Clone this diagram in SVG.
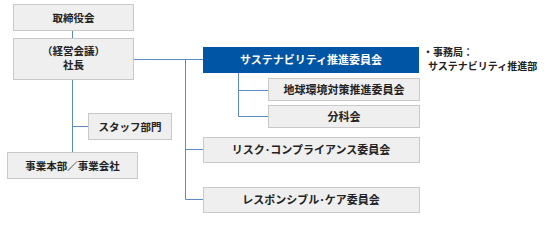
<svg xmlns="http://www.w3.org/2000/svg" width="554" height="236" viewBox="0 0 554 236">
<style>
.box{fill:#efefef;stroke:#c9c9c9;stroke-width:1}
.blue{fill:#0055a5;stroke:#0055a5}
.t{font-family:"Noto Sans CJK JP","Noto Sans",sans-serif;font-size:10.5px;font-weight:bold;fill:#222;text-anchor:middle}
.r{font-size:11px}
.tw{fill:#fff;font-size:11px}
.tn{text-anchor:start;font-size:10px}
.ln{stroke:#5b8bc4;stroke-width:1;fill:none}
</style>
<rect width="554" height="236" fill="#fff"/>
<g id="connectors">
<path class="ln" d="M72.5 30V38"/>
<path class="ln" d="M72.5 79V152"/>
<path class="ln" d="M72.5 126.5H88"/>
<path class="ln" d="M133 59.5H203"/>
<path class="ln" d="M185.5 59.5V199.5H203"/>
<path class="ln" d="M185.5 149.5H203"/>
<path class="ln" d="M238.5 72V116.5H268"/>
<path class="ln" d="M238.5 90.5H268"/>
</g>
<g id="board"><rect class="box" x="13.5" y="4.5" width="120" height="26"/><text class="t" x="73.5" y="21.5">取締役会</text></g>
<g id="president"><rect class="box" x="13.5" y="38.5" width="120" height="41"/><text class="t" x="73.5" y="55">（経営会議）</text><text class="t" x="73.5" y="69">社長</text></g>
<g id="staff"><rect class="box" x="88.5" y="113.5" width="83" height="26"/><text class="t" x="130" y="130.5">スタッフ部門</text></g>
<g id="business"><rect class="box" x="7.5" y="152.5" width="130" height="26"/><text class="t" x="72.5" y="169.5">事業本部／事業会社</text></g>
<g id="sustainability"><rect class="box blue" x="203.5" y="47.5" width="215" height="25"/><text class="t tw" x="311" y="64">サステナビリティ推進委員会</text></g>
<g id="note"><text class="t tn" x="423" y="56">・事務局：</text><text class="t tn" x="428" y="69.5">サステナビリティ推進部</text></g>
<g id="env"><rect class="box" x="268.5" y="78.5" width="151" height="22"/><text class="t r" x="344" y="93.5">地球環境対策推進委員会</text></g>
<g id="subcommittee"><rect class="box" x="268.5" y="105.5" width="151" height="22"/><text class="t r" x="344" y="120.5">分科会</text></g>
<g id="risk"><rect class="box" x="203.5" y="137.5" width="216" height="25"/><text class="t r" x="311" y="154">リスク･コンプライアンス委員会</text></g>
<g id="rc"><rect class="box" x="203.5" y="187.5" width="216" height="25"/><text class="t r" x="311" y="204">レスポンシブル･ケア委員会</text></g>
</svg>
